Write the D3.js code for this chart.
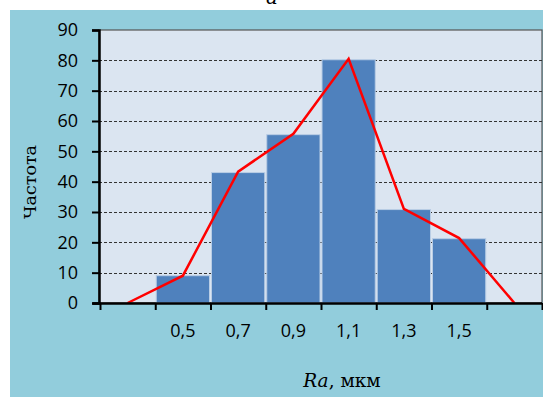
<!DOCTYPE html>
<html>
<head>
<meta charset="utf-8">
<script src="https://cdn.jsdelivr.net/npm/d3@7"></script>
<style>
  html, body { margin: 0; padding: 0; background: #ffffff; }
  svg { display: block; }
</style>
</head>
<body>
<svg id="chart" width="543" height="397"></svg>
<script>
// ---- data ----
const categories = ["", "0,5", "0,7", "0,9", "1,1", "1,3", "1,5", ""];
const barValues = [null, 9, 43, 55.5, 80.2, 30.8, 21.2, null];
const polygonValues = [0, 9, 43.3, 55.8, 80.5, 31, 21.4, 0];
const yTicks = [0, 10, 20, 30, 40, 50, 60, 70, 80, 90];
const gridValues = [10, 20, 30, 40, 50, 60, 70, 80];
const xTitleItalic = "Ra";
const xTitleRest = ", мкм";
const yTitle = "Частота";

const svg = d3.select("#chart");
const W = 543, H = 397;
const plot = { left: 99, right: 542, top: 30, bottom: 303 };

// panel background
svg.append("rect").attr("x", 10).attr("y", 10).attr("width", W - 10).attr("height", H - 10)
  .attr("fill", "#92CDDC");

// top letter (partly above the picture's edge, as in the reference)
svg.append("text").attr("x", 272).attr("y", 4).attr("text-anchor", "middle")
  .attr("font-family", "DejaVu Serif").attr("font-style", "italic").attr("font-size", 20)
  .attr("fill", "#000").text("a");

const x = d3.scaleBand().domain(d3.range(categories.length)).range([100, plot.right]).padding(0);
const xEdge = d3.scaleLinear().domain([0, categories.length]).range([100, plot.right]);
const y = d3.scaleLinear().domain([0, 90]).range([plot.bottom, plot.top]);

// plot area
svg.append("rect").attr("x", plot.left).attr("y", plot.top)
  .attr("width", plot.right - plot.left).attr("height", plot.bottom - plot.top)
  .attr("fill", "#DBE5F1").attr("stroke", "#555").attr("stroke-width", 1.2);

// gridlines
svg.append("g").selectAll("line").data(gridValues).join("line")
  .attr("x1", plot.left).attr("x2", plot.right)
  .attr("y1", d => Math.round(y(d)) + 0.5).attr("y2", d => Math.round(y(d)) + 0.5)
  .attr("stroke", "#333").attr("stroke-width", 1).attr("stroke-dasharray", "3,2");

// bars
svg.append("g").selectAll("rect").data(barValues.map((v, i) => ({ v, i })).filter(d => d.v != null))
  .join("rect")
  .attr("x", d => x(d.i) + 1)
  .attr("width", x.bandwidth() - 2)
  .attr("y", d => y(d.v))
  .attr("height", d => y(0) - y(d.v))
  .attr("fill", "#4F81BD")
  .attr("stroke", "#B9CDE5").attr("stroke-width", 1);

// polygon line
const line = d3.line().x((d, i) => x(i) + x.bandwidth() / 2).y(d => y(d));
svg.append("path").datum(polygonValues).attr("d", line)
  .attr("fill", "none").attr("stroke", "#FF0000").attr("stroke-width", 2.5)
  .attr("stroke-linejoin", "miter");

// y axis
const yAxis = svg.append("g").attr("transform", `translate(${plot.left},0)`)
  .call(d3.axisLeft(y).tickValues(yTicks).tickSize(7).tickPadding(14).tickFormat(d3.format("d")));
yAxis.select(".domain").attr("stroke", "#000").attr("stroke-width", 2.5);
yAxis.selectAll(".tick line").attr("stroke", "#000").attr("stroke-width", 2);
yAxis.selectAll("text").attr("font-family", "Open Sans").attr("font-size", 18).attr("fill", "#000");

// x axis (tick marks at band edges)
const xAxis = svg.append("g").attr("transform", `translate(0,${plot.bottom})`)
  .call(d3.axisBottom(xEdge).tickValues(d3.range(categories.length + 1)).tickSize(7).tickSizeOuter(0).tickFormat(""));
xAxis.select(".domain").attr("stroke", "#000").attr("stroke-width", 2.5).attr("d", `M93,0.5H${plot.right}`);
xAxis.selectAll(".tick line").attr("stroke", "#000").attr("stroke-width", 2);

// x labels
const xLab = svg.append("g").attr("transform", `translate(0,${plot.bottom})`)
  .call(d3.axisBottom(x).tickSize(0).tickPadding(21).tickFormat((d) => categories[d]));
xLab.select(".domain").remove();
xLab.selectAll("text").attr("font-family", "Open Sans").attr("font-size", 18).attr("fill", "#000");

// x title
const xt = svg.append("text").attr("x", 342).attr("y", 387).attr("text-anchor", "middle")
  .attr("font-family", "DejaVu Serif").attr("font-size", 18.5).attr("fill", "#000");
xt.append("tspan").attr("font-style", "italic").text(xTitleItalic);
xt.append("tspan").text(xTitleRest);

// y title
svg.append("text").attr("transform", "translate(36,182) rotate(-90)").attr("text-anchor", "middle")
  .attr("font-family", "DejaVu Serif").attr("font-size", 17.5).attr("fill", "#000").text(yTitle);
</script>
</body>
</html>
